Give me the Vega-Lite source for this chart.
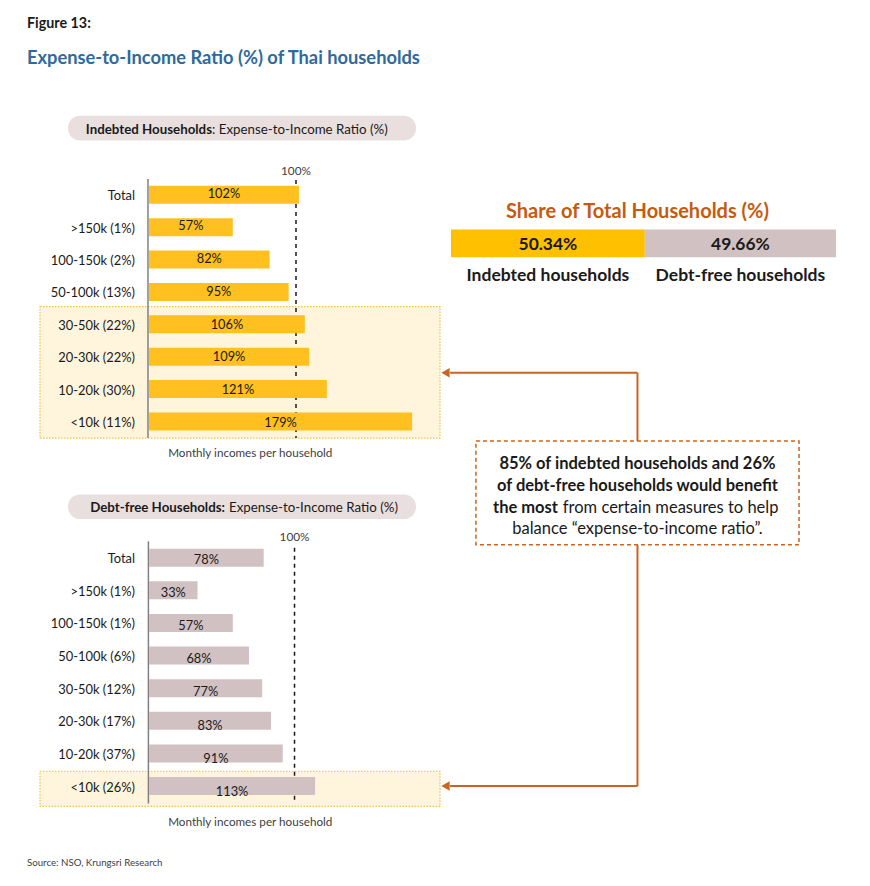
{
  "$schema": "https://vega.github.io/schema/vega-lite/v6.json",
  "width": 870,
  "height": 886,
  "autosize": {"type": "fit", "contains": "padding"},
  "padding": 0,
  "background": "white",
  "config": {"view": {"stroke": null}, "font": "Lato", "text": {"font": "Lato", "dy": 1.5}},
  "datasets": {
    "indebted": [
      {"income": "Total", "ratio": 102},
      {"income": ">150k (1%)", "ratio": 57},
      {"income": "100-150k (2%)", "ratio": 82},
      {"income": "50-100k (13%)", "ratio": 95},
      {"income": "30-50k (22%)", "ratio": 106},
      {"income": "20-30k (22%)", "ratio": 109},
      {"income": "10-20k (30%)", "ratio": 121},
      {"income": "<10k (11%)", "ratio": 179}
    ],
    "debtfree": [
      {"income": "Total", "ratio": 78},
      {"income": ">150k (1%)", "ratio": 33},
      {"income": "100-150k (1%)", "ratio": 57},
      {"income": "50-100k (6%)", "ratio": 68},
      {"income": "30-50k (12%)", "ratio": 77},
      {"income": "20-30k (17%)", "ratio": 83},
      {"income": "10-20k (37%)", "ratio": 91},
      {"income": "<10k (26%)", "ratio": 113}
    ],
    "share": [
      {"group": "Indebted households", "share": 50.34},
      {"group": "Debt-free households", "share": 49.66}
    ]
  },
  "data": {"values": [{}]},
  "resolve": {"scale": {"x": "independent", "y": "independent", "color": "independent"}},
  "layer": [
    {
      "layer": [
        {"mark": {"type": "text", "text": "Figure 13:", "align": "left", "baseline": "middle", "fontSize": 14.3, "fontWeight": "bold", "color": "#1a1a1a"},
         "encoding": {"x": {"datum": -82.99, "type": "quantitative", "scale": {"domain": [-101.36, 490.48], "nice": false, "zero": false}, "axis": null},
                      "y": {"datum": -4.313, "type": "quantitative", "scale": {"domain": [-4.8626, 22.1908], "nice": false, "zero": false, "reverse": true}, "axis": null}}},
        {"mark": {"type": "text", "text": "Expense-to-Income Ratio (%) of Thai households", "align": "left", "baseline": "middle", "fontSize": 18.3, "fontWeight": "bold", "color": "#2E6A9C"},
         "encoding": {"x": {"datum": -82.99, "type": "quantitative", "scale": {"domain": [-101.36, 490.48], "nice": false, "zero": false}, "axis": null},
                      "y": {"datum": -3.244, "type": "quantitative", "scale": {"domain": [-4.8626, 22.1908], "nice": false, "zero": false, "reverse": true}, "axis": null}}},
        {"mark": {"type": "rect", "fill": "#E9DFDF", "cornerRadius": 12},
         "encoding": {"x": {"datum": -55.1, "type": "quantitative", "scale": {"domain": [-101.36, 490.48], "nice": false, "zero": false}, "axis": null}, "x2": {"datum": 181.63},
                      "y": {"datum": -1.443, "type": "quantitative", "scale": {"domain": [-4.8626, 22.1908], "nice": false, "zero": false, "reverse": true}, "axis": null}, "y2": {"datum": -0.679}}},
        {"mark": {"type": "text", "text": "Indebted Households", "align": "right", "baseline": "middle", "fontSize": 13.3, "fontWeight": "bold", "color": "#1a1a1a"},
         "encoding": {"x": {"datum": 42.86, "type": "quantitative", "scale": {"domain": [-101.36, 490.48], "nice": false, "zero": false}, "axis": null},
                      "y": {"datum": -1.061, "type": "quantitative", "scale": {"domain": [-4.8626, 22.1908], "nice": false, "zero": false, "reverse": true}, "axis": null}}},
        {"mark": {"type": "text", "text": ": Expense-to-Income Ratio (%)", "align": "left", "baseline": "middle", "fontSize": 13.3, "color": "#1a1a1a"},
         "encoding": {"x": {"datum": 42.86, "type": "quantitative", "scale": {"domain": [-101.36, 490.48], "nice": false, "zero": false}, "axis": null},
                      "y": {"datum": -1.061, "type": "quantitative", "scale": {"domain": [-4.8626, 22.1908], "nice": false, "zero": false, "reverse": true}, "axis": null}}},
        {"mark": {"type": "text", "text": "100%", "align": "center", "baseline": "middle", "fontSize": 11.8, "color": "#404040"},
         "encoding": {"x": {"datum": 100, "type": "quantitative", "scale": {"domain": [-101.36, 490.48], "nice": false, "zero": false}, "axis": null},
                      "y": {"datum": 0.206, "type": "quantitative", "scale": {"domain": [-4.8626, 22.1908], "nice": false, "zero": false, "reverse": true}, "axis": null}}},
        {"mark": {"type": "rect", "fill": "#FFF5DC", "stroke": "#F0C04A", "strokeWidth": 1.2, "strokeDash": [1.5, 1.5]},
         "encoding": {"x": {"datum": -74.15, "type": "quantitative", "scale": {"domain": [-101.36, 490.48], "nice": false, "zero": false}, "axis": null}, "x2": {"datum": 197.96},
                      "y": {"datum": 4.45, "type": "quantitative", "scale": {"domain": [-4.8626, 22.1908], "nice": false, "zero": false, "reverse": true}, "axis": null}, "y2": {"datum": 8.511}}},
        {"mark": {"type": "rule", "stroke": "#1a1a1a", "strokeWidth": 1.5, "strokeDash": [4, 4]},
         "encoding": {"x": {"datum": 100, "type": "quantitative", "scale": {"domain": [-101.36, 490.48], "nice": false, "zero": false}, "axis": null},
                      "y": {"datum": 0.542, "type": "quantitative", "scale": {"domain": [-4.8626, 22.1908], "nice": false, "zero": false, "reverse": true}, "axis": null}, "y2": {"datum": 8.511}}},
        {"mark": {"type": "rule", "stroke": "#808080", "strokeWidth": 1.5},
         "encoding": {"x": {"datum": -0.7, "type": "quantitative", "scale": {"domain": [-101.36, 490.48], "nice": false, "zero": false}, "axis": null},
                      "y": {"datum": 0.511, "type": "quantitative", "scale": {"domain": [-4.8626, 22.1908], "nice": false, "zero": false, "reverse": true}, "axis": null}, "y2": {"datum": 8.511}}},
        {"data": {"name": "indebted"},
         "transform": [{"window": [{"op": "row_number", "as": "rank"}]}],
         "mark": {"type": "bar", "orient": "horizontal", "color": "#FFC020"},
         "encoding": {"x": {"field": "ratio", "type": "quantitative", "scale": {"domain": [-101.36, 490.48], "nice": false, "zero": false}, "axis": null}, "x2": {"datum": 0},
                      "y": {"field": "rank", "type": "quantitative", "scale": {"domain": [-4.8626, 22.1908], "nice": false, "zero": false, "reverse": true}, "axis": null},
                      "size": {"value": 18}}},
        {"data": {"name": "indebted"},
         "transform": [{"window": [{"op": "row_number", "as": "rank"}]}],
         "mark": {"type": "text", "align": "right", "baseline": "middle", "fontSize": 12.9, "color": "#1a1a1a"},
         "encoding": {"x": {"datum": -9.52, "type": "quantitative", "scale": {"domain": [-101.36, 490.48], "nice": false, "zero": false}, "axis": null},
                      "y": {"field": "rank", "type": "quantitative", "scale": {"domain": [-4.8626, 22.1908], "nice": false, "zero": false, "reverse": true}, "axis": null},
                      "text": {"field": "income"}}},
        {"mark": {"type": "text", "text": "Monthly incomes per household", "align": "center", "baseline": "middle", "fontSize": 11.7, "color": "#404040"},
         "encoding": {"x": {"datum": 68.9, "type": "quantitative", "scale": {"domain": [-101.36, 490.48], "nice": false, "zero": false}, "axis": null},
                      "y": {"datum": 8.939, "type": "quantitative", "scale": {"domain": [-4.8626, 22.1908], "nice": false, "zero": false, "reverse": true}, "axis": null}}},
        {"mark": {"type": "rect", "fill": "#E9DFDF", "cornerRadius": 12},
         "encoding": {"x": {"datum": -55.1, "type": "quantitative", "scale": {"domain": [-101.36, 490.48], "nice": false, "zero": false}, "axis": null}, "x2": {"datum": 181.63},
                      "y": {"datum": 10.252, "type": "quantitative", "scale": {"domain": [-4.8626, 22.1908], "nice": false, "zero": false, "reverse": true}, "axis": null}, "y2": {"datum": 11.015}}},
        {"mark": {"type": "text", "text": "Debt-free Households:", "align": "right", "baseline": "middle", "fontSize": 13.3, "fontWeight": "bold", "color": "#1a1a1a"},
         "encoding": {"x": {"datum": 51.7, "type": "quantitative", "scale": {"domain": [-101.36, 490.48], "nice": false, "zero": false}, "axis": null},
                      "y": {"datum": 10.634, "type": "quantitative", "scale": {"domain": [-4.8626, 22.1908], "nice": false, "zero": false, "reverse": true}, "axis": null}}},
        {"mark": {"type": "text", "text": "Expense-to-Income Ratio (%)", "align": "left", "baseline": "middle", "fontSize": 13.3, "color": "#1a1a1a"},
         "encoding": {"x": {"datum": 54.42, "type": "quantitative", "scale": {"domain": [-101.36, 490.48], "nice": false, "zero": false}, "axis": null},
                      "y": {"datum": 10.634, "type": "quantitative", "scale": {"domain": [-4.8626, 22.1908], "nice": false, "zero": false, "reverse": true}, "axis": null}}},
        {"mark": {"type": "text", "text": "100%", "align": "center", "baseline": "middle", "fontSize": 11.8, "color": "#404040"},
         "encoding": {"x": {"datum": 99, "type": "quantitative", "scale": {"domain": [-101.36, 490.48], "nice": false, "zero": false}, "axis": null},
                      "y": {"datum": 11.534, "type": "quantitative", "scale": {"domain": [-4.8626, 22.1908], "nice": false, "zero": false, "reverse": true}, "axis": null}}},
        {"mark": {"type": "rect", "fill": "#FFF5DC", "stroke": "#F0C04A", "strokeWidth": 1.2, "strokeDash": [1.5, 1.5]},
         "encoding": {"x": {"datum": -74.15, "type": "quantitative", "scale": {"domain": [-101.36, 490.48], "nice": false, "zero": false}, "axis": null}, "x2": {"datum": 197.96},
                      "y": {"datum": 18.802, "type": "quantitative", "scale": {"domain": [-4.8626, 22.1908], "nice": false, "zero": false, "reverse": true}, "axis": null}, "y2": {"datum": 19.885}}},
        {"mark": {"type": "rule", "stroke": "#1a1a1a", "strokeWidth": 1.5, "strokeDash": [4, 4]},
         "encoding": {"x": {"datum": 99, "type": "quantitative", "scale": {"domain": [-101.36, 490.48], "nice": false, "zero": false}, "axis": null},
                      "y": {"datum": 11.901, "type": "quantitative", "scale": {"domain": [-4.8626, 22.1908], "nice": false, "zero": false, "reverse": true}, "axis": null}, "y2": {"datum": 19.8}}},
        {"mark": {"type": "rule", "stroke": "#808080", "strokeWidth": 1.5},
         "encoding": {"x": {"datum": -0.4, "type": "quantitative", "scale": {"domain": [-101.36, 490.48], "nice": false, "zero": false}, "axis": null},
                      "y": {"datum": 11.697, "type": "quantitative", "scale": {"domain": [-4.8626, 22.1908], "nice": false, "zero": false, "reverse": true}, "axis": null}, "y2": {"datum": 19.8}}},
        {"mark": {"type": "text", "text": "Monthly incomes per household", "align": "center", "baseline": "middle", "fontSize": 11.7, "color": "#404040"},
         "encoding": {"x": {"datum": 68.9, "type": "quantitative", "scale": {"domain": [-101.36, 490.48], "nice": false, "zero": false}, "axis": null},
                      "y": {"datum": 20.328, "type": "quantitative", "scale": {"domain": [-4.8626, 22.1908], "nice": false, "zero": false, "reverse": true}, "axis": null}}},
        {"mark": {"type": "text", "text": "Source: NSO, Krungsri Research", "align": "left", "baseline": "middle", "fontSize": 9.7, "color": "#404040"},
         "encoding": {"x": {"datum": -82.99, "type": "quantitative", "scale": {"domain": [-101.36, 490.48], "nice": false, "zero": false}, "axis": null},
                      "y": {"datum": 21.58, "type": "quantitative", "scale": {"domain": [-4.8626, 22.1908], "nice": false, "zero": false, "reverse": true}, "axis": null}}},
        {"mark": {"type": "text", "text": "Share of Total Households (%)", "align": "center", "baseline": "middle", "fontSize": 20, "fontWeight": "bold", "color": "#C55A11"},
         "encoding": {"x": {"datum": 332.3, "type": "quantitative", "scale": {"domain": [-101.36, 490.48], "nice": false, "zero": false}, "axis": null},
                      "y": {"datum": 1.489, "type": "quantitative", "scale": {"domain": [-4.8626, 22.1908], "nice": false, "zero": false, "reverse": true}, "axis": null}}},
        {"mark": {"type": "rule", "stroke": "#C9651E", "strokeWidth": 2},
         "encoding": {"x": {"datum": 332.3, "type": "quantitative", "scale": {"domain": [-101.36, 490.48], "nice": false, "zero": false}, "axis": null},
                      "y": {"datum": 6.496, "type": "quantitative", "scale": {"domain": [-4.8626, 22.1908], "nice": false, "zero": false, "reverse": true}, "axis": null}, "y2": {"datum": 8.603}}},
        {"mark": {"type": "rule", "stroke": "#C9651E", "strokeWidth": 2},
         "encoding": {"x": {"datum": 204.8, "type": "quantitative", "scale": {"domain": [-101.36, 490.48], "nice": false, "zero": false}, "axis": null}, "x2": {"datum": 332.3},
                      "y": {"datum": 6.496, "type": "quantitative", "scale": {"domain": [-4.8626, 22.1908], "nice": false, "zero": false, "reverse": true}, "axis": null}}},
        {"mark": {"type": "rule", "stroke": "#C9651E", "strokeWidth": 2},
         "encoding": {"x": {"datum": 332.3, "type": "quantitative", "scale": {"domain": [-101.36, 490.48], "nice": false, "zero": false}, "axis": null},
                      "y": {"datum": 11.809, "type": "quantitative", "scale": {"domain": [-4.8626, 22.1908], "nice": false, "zero": false, "reverse": true}, "axis": null}, "y2": {"datum": 19.26}}},
        {"mark": {"type": "rule", "stroke": "#C9651E", "strokeWidth": 2},
         "encoding": {"x": {"datum": 204.8, "type": "quantitative", "scale": {"domain": [-101.36, 490.48], "nice": false, "zero": false}, "axis": null}, "x2": {"datum": 332.3},
                      "y": {"datum": 19.26, "type": "quantitative", "scale": {"domain": [-4.8626, 22.1908], "nice": false, "zero": false, "reverse": true}, "axis": null}}},
        {"mark": {"type": "point", "shape": "triangle-left", "filled": true, "color": "#C9651E", "size": 90, "opacity": 1},
         "encoding": {"x": {"datum": 201.7, "type": "quantitative", "scale": {"domain": [-101.36, 490.48], "nice": false, "zero": false}, "axis": null},
                      "y": {"datum": 6.496, "type": "quantitative", "scale": {"domain": [-4.8626, 22.1908], "nice": false, "zero": false, "reverse": true}, "axis": null}}},
        {"mark": {"type": "point", "shape": "triangle-left", "filled": true, "color": "#C9651E", "size": 90, "opacity": 1},
         "encoding": {"x": {"datum": 201.7, "type": "quantitative", "scale": {"domain": [-101.36, 490.48], "nice": false, "zero": false}, "axis": null},
                      "y": {"datum": 19.26, "type": "quantitative", "scale": {"domain": [-4.8626, 22.1908], "nice": false, "zero": false, "reverse": true}, "axis": null}}},
        {"mark": {"type": "rect", "fill": "white", "stroke": "#C9651E", "strokeWidth": 1.5, "strokeDash": [4, 3]},
         "encoding": {"x": {"datum": 222.4, "type": "quantitative", "scale": {"domain": [-101.36, 490.48], "nice": false, "zero": false}, "axis": null}, "x2": {"datum": 442.2},
                      "y": {"datum": 8.603, "type": "quantitative", "scale": {"domain": [-4.8626, 22.1908], "nice": false, "zero": false, "reverse": true}, "axis": null}, "y2": {"datum": 11.809}}},
        {"mark": {"type": "text", "text": "85% of indebted households and 26%", "align": "center", "baseline": "middle", "fontSize": 16.5, "fontWeight": "bold", "color": "#1a1a1a"},
         "encoding": {"x": {"datum": 332.3, "type": "quantitative", "scale": {"domain": [-101.36, 490.48], "nice": false, "zero": false}, "axis": null},
                      "y": {"datum": 9.275, "type": "quantitative", "scale": {"domain": [-4.8626, 22.1908], "nice": false, "zero": false, "reverse": true}, "axis": null}}},
        {"mark": {"type": "text", "text": "of debt-free households would benefit", "align": "center", "baseline": "middle", "fontSize": 16.5, "fontWeight": "bold", "color": "#1a1a1a"},
         "encoding": {"x": {"datum": 332.3, "type": "quantitative", "scale": {"domain": [-101.36, 490.48], "nice": false, "zero": false}, "axis": null},
                      "y": {"datum": 9.947, "type": "quantitative", "scale": {"domain": [-4.8626, 22.1908], "nice": false, "zero": false, "reverse": true}, "axis": null}}},
        {"mark": {"type": "text", "text": "the most", "align": "right", "baseline": "middle", "fontSize": 16.5, "fontWeight": "bold", "color": "#1a1a1a"},
         "encoding": {"x": {"datum": 278.2, "type": "quantitative", "scale": {"domain": [-101.36, 490.48], "nice": false, "zero": false}, "axis": null},
                      "y": {"datum": 10.618, "type": "quantitative", "scale": {"domain": [-4.8626, 22.1908], "nice": false, "zero": false, "reverse": true}, "axis": null}}},
        {"mark": {"type": "text", "text": "from certain measures to help", "align": "left", "baseline": "middle", "fontSize": 16.5, "color": "#1a1a1a"},
         "encoding": {"x": {"datum": 281.5, "type": "quantitative", "scale": {"domain": [-101.36, 490.48], "nice": false, "zero": false}, "axis": null},
                      "y": {"datum": 10.618, "type": "quantitative", "scale": {"domain": [-4.8626, 22.1908], "nice": false, "zero": false, "reverse": true}, "axis": null}}},
        {"mark": {"type": "text", "text": "balance “expense-to-income ratio”.", "align": "center", "baseline": "middle", "fontSize": 16.5, "color": "#1a1a1a"},
         "encoding": {"x": {"datum": 332.3, "type": "quantitative", "scale": {"domain": [-101.36, 490.48], "nice": false, "zero": false}, "axis": null},
                      "y": {"datum": 11.26, "type": "quantitative", "scale": {"domain": [-4.8626, 22.1908], "nice": false, "zero": false, "reverse": true}, "axis": null}}}
      ]
    },
    {
      "data": {"name": "indebted"},
      "transform": [{"window": [{"op": "row_number", "as": "rank"}]}],
      "mark": {"type": "text", "align": "center", "baseline": "middle", "fontSize": 12.8, "color": "#1a1a1a", "text": {"expr": "datum.ratio + '%'"}},
      "encoding": {"x": {"field": "ratio", "type": "quantitative", "scale": {"domain": [-202.72, 980.96], "nice": false, "zero": false}, "axis": null},
                   "y": {"field": "rank", "type": "quantitative", "scale": {"domain": [-4.8626, 22.1908], "nice": false, "zero": false, "reverse": true}, "axis": null}}
    },
    {
      "data": {"name": "debtfree"},
      "transform": [{"window": [{"op": "row_number", "as": "rank"}]}],
      "layer": [
        {"mark": {"type": "bar", "orient": "horizontal", "color": "#D1C1C2"},
         "encoding": {"x": {"field": "ratio", "type": "quantitative", "scale": {"domain": [-101.36, 490.48], "nice": false, "zero": false}, "axis": null}, "x2": {"datum": 0},
                      "y": {"field": "rank", "type": "quantitative", "scale": {"domain": [-15.939, 10.909], "nice": false, "zero": false, "reverse": true}, "axis": null},
                      "size": {"value": 18}}},
        {"mark": {"type": "text", "align": "right", "baseline": "middle", "fontSize": 12.9, "color": "#1a1a1a"},
         "encoding": {"x": {"datum": -9.52, "type": "quantitative", "scale": {"domain": [-101.36, 490.48], "nice": false, "zero": false}, "axis": null},
                      "y": {"field": "rank", "type": "quantitative", "scale": {"domain": [-15.939, 10.909], "nice": false, "zero": false, "reverse": true}, "axis": null},
                      "text": {"field": "income"}}}
      ]
    },
    {
      "data": {"name": "debtfree"},
      "transform": [{"window": [{"op": "row_number", "as": "rank"}]}],
      "mark": {"type": "text", "align": "center", "baseline": "middle", "fontSize": 12.8, "color": "#1a1a1a", "text": {"expr": "datum.ratio + '%'"}},
      "encoding": {"x": {"field": "ratio", "type": "quantitative", "scale": {"domain": [-202.72, 980.96], "nice": false, "zero": false}, "axis": null},
                   "y": {"field": "rank", "type": "quantitative", "scale": {"domain": [-15.939, 10.909], "nice": false, "zero": false, "reverse": true}, "axis": null}}
    },
    {
      "data": {"name": "share"},
      "layer": [
        {"mark": {"type": "bar", "orient": "horizontal"},
         "encoding": {"x": {"field": "share", "type": "quantitative", "stack": "zero", "scale": {"domain": [-117.14, 108.83], "nice": false, "zero": false}, "axis": null},
                      "y": {"datum": 2.069, "type": "quantitative", "scale": {"domain": [-4.8626, 22.1908], "nice": false, "zero": false, "reverse": true}, "axis": null}, "y2": {"datum": 2.924},
                      "color": {"field": "group", "type": "nominal", "scale": {"domain": ["Indebted households", "Debt-free households"], "range": ["#FFC000", "#D1C1C2"]}, "legend": null},
                      "order": {"field": "share", "sort": "descending"}}},
        {"mark": {"type": "text", "align": "center", "baseline": "middle", "fontSize": 17.4, "fontWeight": "bold", "color": "#1a1a1a", "text": {"expr": "datum.share + '%'"}},
         "encoding": {"x": {"field": "share", "type": "quantitative", "stack": "zero", "bandPosition": 0.5, "scale": {"domain": [-117.14, 108.83], "nice": false, "zero": false}, "axis": null},
                      "y": {"datum": 2.496, "type": "quantitative", "scale": {"domain": [-4.8626, 22.1908], "nice": false, "zero": false, "reverse": true}, "axis": null},
                      "detail": {"field": "group"},
                      "order": {"field": "share", "sort": "descending"}}},
        {"mark": {"type": "text", "align": "center", "baseline": "middle", "fontSize": 17.5, "fontWeight": "bold", "color": "#1a1a1a"},
         "encoding": {"x": {"field": "share", "type": "quantitative", "stack": "zero", "bandPosition": 0.5, "scale": {"domain": [-117.14, 108.83], "nice": false, "zero": false}, "axis": null},
                      "y": {"datum": 3.473, "type": "quantitative", "scale": {"domain": [-4.8626, 22.1908], "nice": false, "zero": false, "reverse": true}, "axis": null},
                      "detail": {"field": "group"},
                      "order": {"field": "share", "sort": "descending"},
                      "text": {"field": "group"}}}
      ]
    }
  ]
}
